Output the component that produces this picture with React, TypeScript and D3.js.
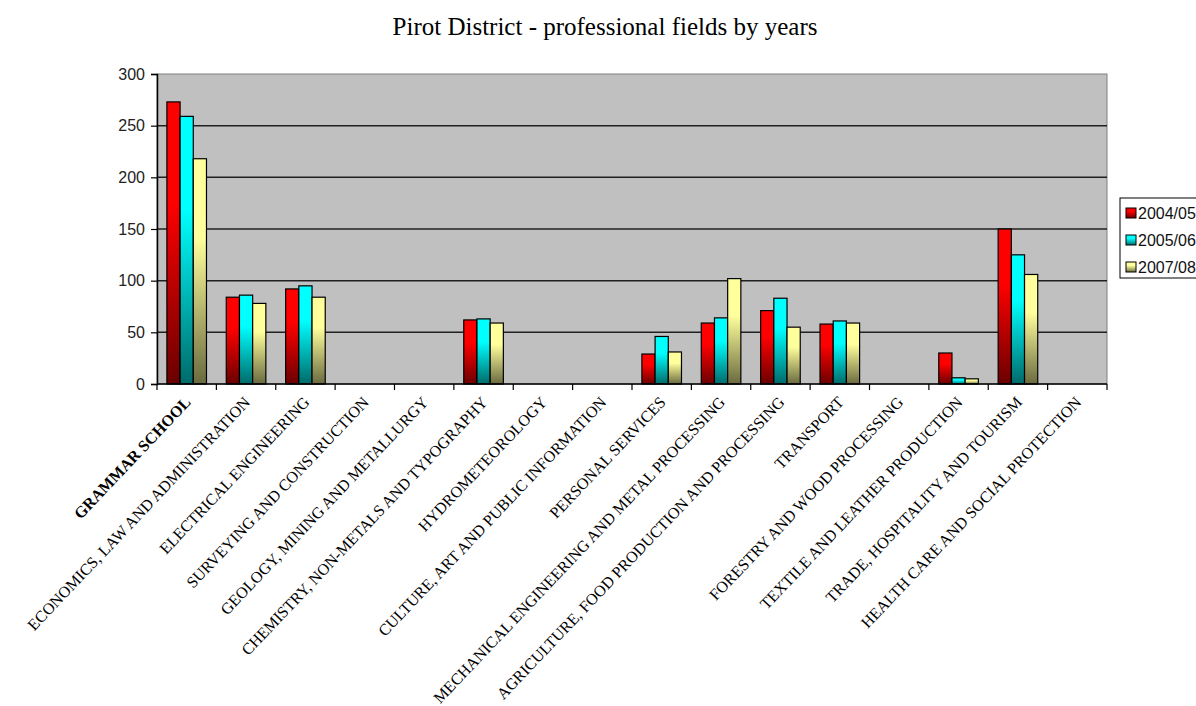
import React, { useRef, useEffect } from 'react';
import * as d3 from 'd3';

// categories and series
const categories = [
    'GRAMMAR SCHOOL',
    'ECONOMICS, LAW AND ADMINISTRATION',
    'ELECTRICAL ENGINEERING',
    'SURVEYING AND CONSTRUCTION',
    'GEOLOGY, MINING AND  METALLURGY',
    'CHEMISTRY, NON-METALS AND TYPOGRAPHY',
    'HYDROMETEOROLOGY',
    'CULTURE, ART AND PUBLIC INFORMATION',
    'PERSONAL SERVICES',
    'MECHANICAL ENGINEERING AND METAL PROCESSING',
    'AGRICULTURE, FOOD PRODUCTION AND PROCESSING',
    'TRANSPORT',
    'FORESTRY AND WOOD PROCESSING',
    'TEXTILE AND LEATHER PRODUCTION',
    'TRADE, HOSPITALITY AND TOURISM',
    'HEALTH CARE AND SOCIAL PROTECTION',
];

const seriesNames = ['2004/05', '2005/06', '2007/08'];

const values0405 = [273, 84, 92, 0, 0, 62, 0, 0, 29, 59, 71, 58, 0, 30, 150, 0];
const values0506 = [259, 86, 95, 0, 0, 63, 0, 0, 46, 64, 83, 61, 0, 6, 125, 0];
const values0708 = [218, 78, 84, 0, 0, 59, 0, 0, 31, 102, 55, 59, 0, 5, 106, 0];

const yTicks = [0, 50, 100, 150, 200, 250, 300];

const chartTitle = 'Pirot District - professional fields by years';

// top (bright) and bottom (dark) colours of each series gradient
const seriesColors = [
    ['#ff0000', '#6a0000'],
    ['#00ffff', '#006a6a'],
    ['#ffff9c', '#6a6a40'],
];

export default function App() {
    const ref = useRef<SVGSVGElement>(null);

    useEffect(() => {
        const width = 1196;
        const height = 706;
        const left = 157, right = 1107, top = 74, bottom = 384;

        const svg = d3.select(ref.current);
        svg.selectAll('*').remove();

        const allValues = [values0405, values0506, values0708];

        // gradients
        const defs = svg.append('defs');
        seriesColors.forEach((c, i) => {
            const g = defs.append('linearGradient')
                .attr('id', 'grad' + i)
                .attr('x1', 0).attr('y1', 0).attr('x2', 0).attr('y2', 1);
            g.append('stop').attr('offset', '0%').attr('stop-color', c[0]);
            g.append('stop').attr('offset', '35%').attr('stop-color', c[0]);
            g.append('stop').attr('offset', '100%').attr('stop-color', c[1]);
        });

        const x0 = d3.scaleBand<string>()
            .domain(categories)
            .range([left, right]);

        const x1 = d3.scaleBand<string>()
            .domain(seriesNames)
            .range([0, x0.bandwidth()])
            .paddingInner(0)
            .paddingOuter(0.75);

        const y = d3.scaleLinear()
            .domain([0, 300])
            .range([bottom, top]);

        // title
        svg.append('text')
            .attr('x', 605)
            .attr('y', 35)
            .attr('text-anchor', 'middle')
            .style('font-family', '"Liberation Serif", "Times New Roman", serif')
            .style('font-size', '25px')
            .attr('fill', '#000')
            .text(chartTitle);

        // plot background
        svg.append('rect')
            .attr('x', left)
            .attr('y', top)
            .attr('width', right - left)
            .attr('height', bottom - top)
            .attr('fill', '#c0c0c0')
            .attr('stroke', '#808080')
            .attr('stroke-width', 1);

        // gridlines
        svg.append('g')
            .selectAll('line')
            .data(yTicks.filter(d => d > 0 && d < 300))
            .enter()
            .append('line')
            .attr('x1', left)
            .attr('x2', right)
            .attr('y1', d => y(d))
            .attr('y2', d => y(d))
            .attr('stroke', '#202020')
            .attr('stroke-width', 1.5);

        // bars
        allValues.forEach((vals, si) => {
            svg.append('g')
                .selectAll('rect')
                .data(vals.map((v, i) => ({ v, c: categories[i] })).filter(d => d.v > 0))
                .enter()
                .append('rect')
                .attr('x', d => (x0(d.c) as number) + (x1(seriesNames[si]) as number))
                .attr('y', d => y(d.v))
                .attr('width', x1.bandwidth())
                .attr('height', d => bottom - y(d.v))
                .attr('fill', 'url(#grad' + si + ')')
                .attr('stroke', '#000')
                .attr('stroke-width', 1.2);
        });

        // y axis
        const yAxis = svg.append('g')
            .attr('transform', `translate(${left}, 0)`)
            .call(d3.axisLeft(y).tickValues(yTicks).tickSize(6).tickPadding(6));
        yAxis.select('.domain').attr('stroke', '#000').attr('stroke-width', 1.5);
        yAxis.selectAll('.tick line').attr('stroke', '#000').attr('stroke-width', 1.2);
        yAxis.selectAll('.tick text')
            .style('font-family', '"Liberation Sans", Arial, sans-serif')
            .style('font-size', '16px')
            .attr('fill', '#222');

        // x axis line + ticks at category edges
        svg.append('line')
            .attr('x1', left).attr('x2', right)
            .attr('y1', bottom).attr('y2', bottom)
            .attr('stroke', '#000').attr('stroke-width', 1.5);

        const edges = categories.map(c => x0(c) as number).concat([right]);
        svg.append('g')
            .selectAll('line')
            .data(edges)
            .enter()
            .append('line')
            .attr('x1', d => d).attr('x2', d => d)
            .attr('y1', bottom).attr('y2', bottom + 6)
            .attr('stroke', '#000').attr('stroke-width', 1.2);

        // rotated category labels
        svg.append('g')
            .selectAll('text')
            .data(categories)
            .enter()
            .append('text')
            .attr('transform', d => `translate(${(x0(d) as number) + x0.bandwidth() / 2 + 5}, 403) rotate(-46.5)`)
            .attr('text-anchor', 'end')
            .style('font-family', '"Liberation Serif", "Times New Roman", serif')
            .style('font-size', '16px')
            .style('font-weight', (d, i) => (i === 0 ? 'bold' : 'normal'))
            .attr('fill', '#000')
            .text(d => d);

        // legend
        const legend = svg.append('g');
        legend.append('rect')
            .attr('x', 1120)
            .attr('y', 198)
            .attr('width', 90)
            .attr('height', 80)
            .attr('fill', '#fff')
            .attr('stroke', '#000')
            .attr('stroke-width', 1);

        seriesNames.forEach((name, i) => {
            const cy = 213 + i * 27;
            legend.append('rect')
                .attr('x', 1126)
                .attr('y', cy - 5)
                .attr('width', 10)
                .attr('height', 10)
                .attr('fill', 'url(#grad' + i + ')')
                .attr('stroke', '#000')
                .attr('stroke-width', 1);
            legend.append('text')
                .attr('x', 1138)
                .attr('y', cy + 6)
                .style('font-family', '"Liberation Sans", Arial, sans-serif')
                .style('font-size', '16px')
                .attr('fill', '#111')
                .text(name);
        });

        svg.attr('width', width).attr('height', height);
    }, []);

    return (
        <svg
            ref={ref}
            width={1196}
            height={706}
            style={{ position: 'absolute', left: 0, top: 0, background: '#fff' }}
        />
    );
}
